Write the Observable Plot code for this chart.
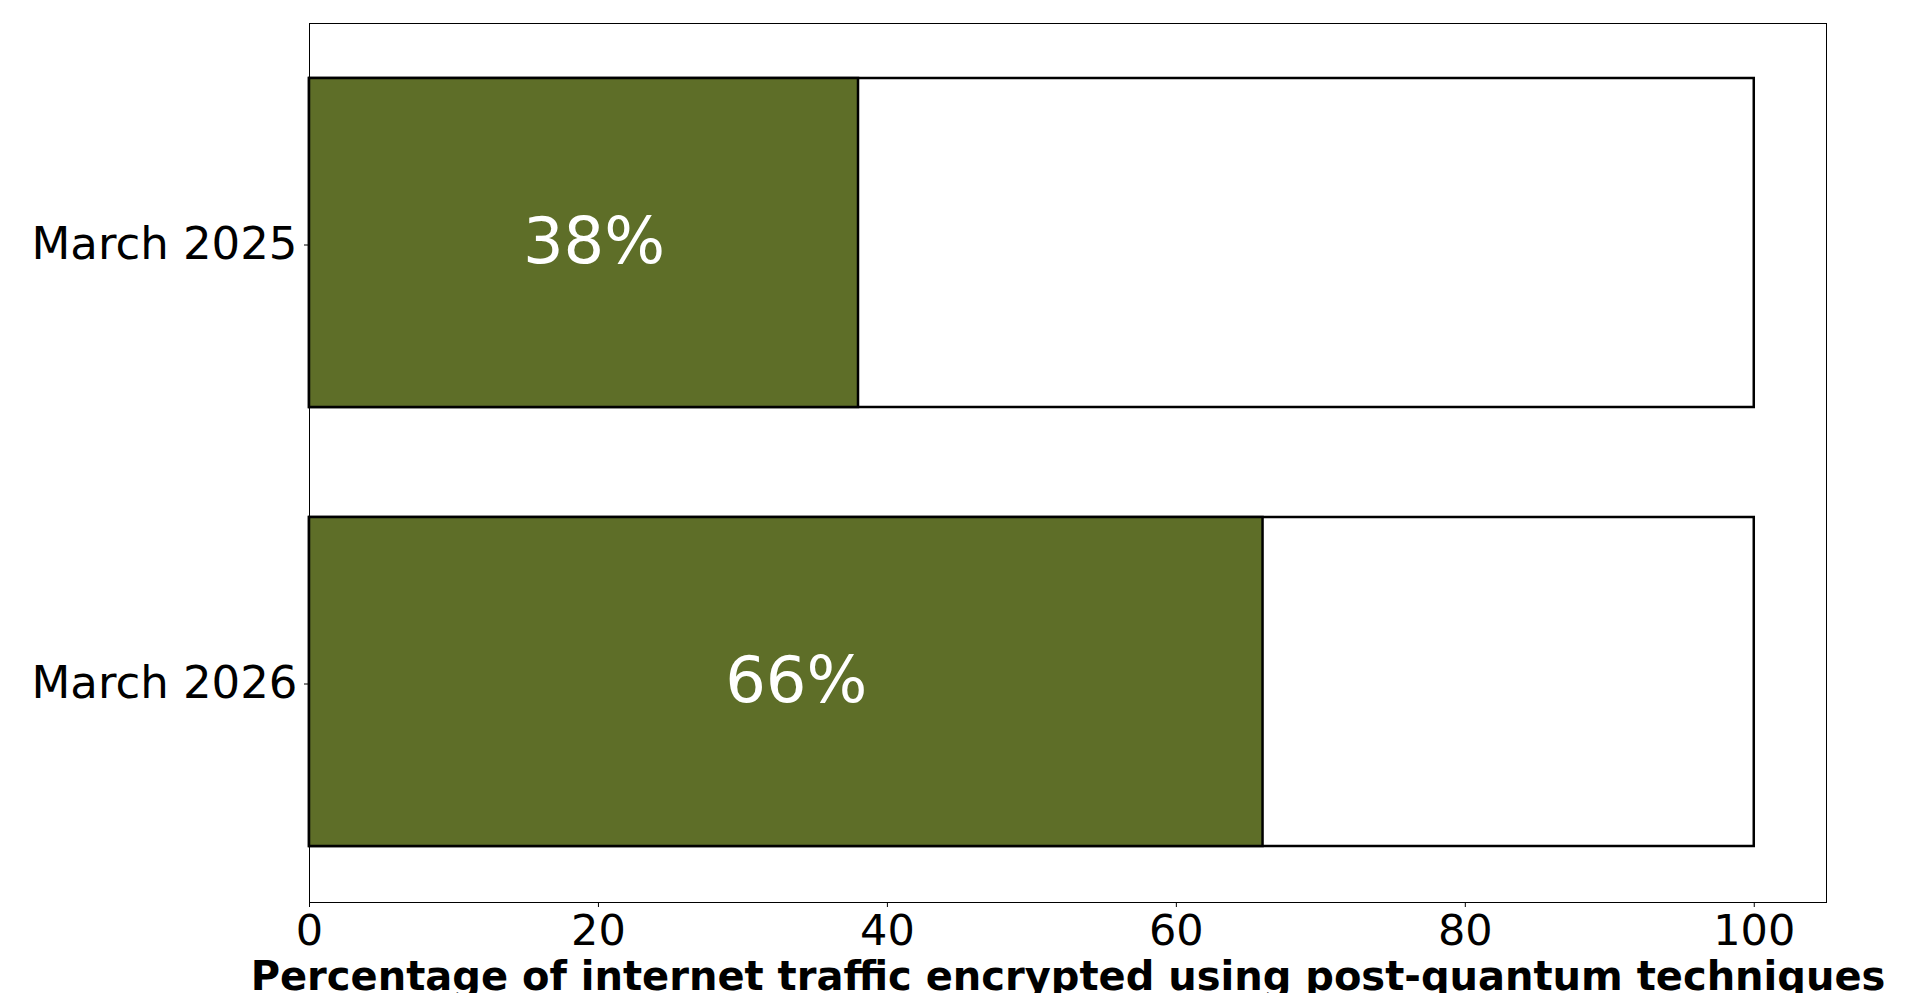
<!DOCTYPE html>
<html>
<head>
<meta charset="utf-8">
<script src="https://cdn.jsdelivr.net/npm/d3@7"></script>
<script src="https://cdn.jsdelivr.net/npm/@observablehq/plot@0.6"></script>
<style>
  html, body { margin: 0; padding: 0; background: white; overflow: hidden; }
  #chart svg { max-width: none; overflow: visible; }
</style>
</head>
<body>
<div id="chart"></div>
<script>
const categories = ["March 2025", "March 2026"];
const values = [38, 66];
const totals = [100, 100];
const valueLabels = ["38%", "66%"];
const xTicks = [0, 20, 40, 60, 80, 100];
const xLabel = "Percentage of internet traffic encrypted using post-quantum techniques";

const rows = categories.map((c, i) => ({cat: c, value: values[i], total: totals[i], label: valueLabels[i]}));

const chart = Plot.plot({
  width: 1927,
  height: 993,
  marginTop: 23,
  marginRight: 101,
  marginBottom: 91,
  marginLeft: 309,
  style: {fontFamily: "DejaVu Sans", background: "white"},
  x: {domain: [0, 105], ticks: xTicks},
  y: {domain: categories, paddingInner: 0.25, paddingOuter: 0.125, label: null},
  marks: [
    Plot.barX(rows, {y: "cat", x1: 0, x2: "total", fill: "white", stroke: "black", strokeWidth: 2.5}),
    Plot.barX(rows, {y: "cat", x1: 0, x2: "value", fill: "#5e6e28", stroke: "black", strokeWidth: 2.5}),
    Plot.text(rows, {y: "cat", x: d => d.value / 2, text: "label", fill: "white", fontSize: 64, dx: 10, dy: 0}),
    Plot.frame({stroke: "black", strokeWidth: 1}),
    Plot.axisX({ticks: xTicks, tickSize: 5, tickPadding: 7, fontSize: 43, label: null, color: "black"}),
    Plot.axisY({tickSize: 5, tickPadding: 7, fontSize: 45, label: null, dy: 2, color: "black"}),
    Plot.text([xLabel], {frameAnchor: "bottom", lineAnchor: "middle", dy: 75, fontSize: 40, fontWeight: "bold", fill: "black"})
  ]
});
document.getElementById("chart").appendChild(chart);
</script>
</body>
</html>
